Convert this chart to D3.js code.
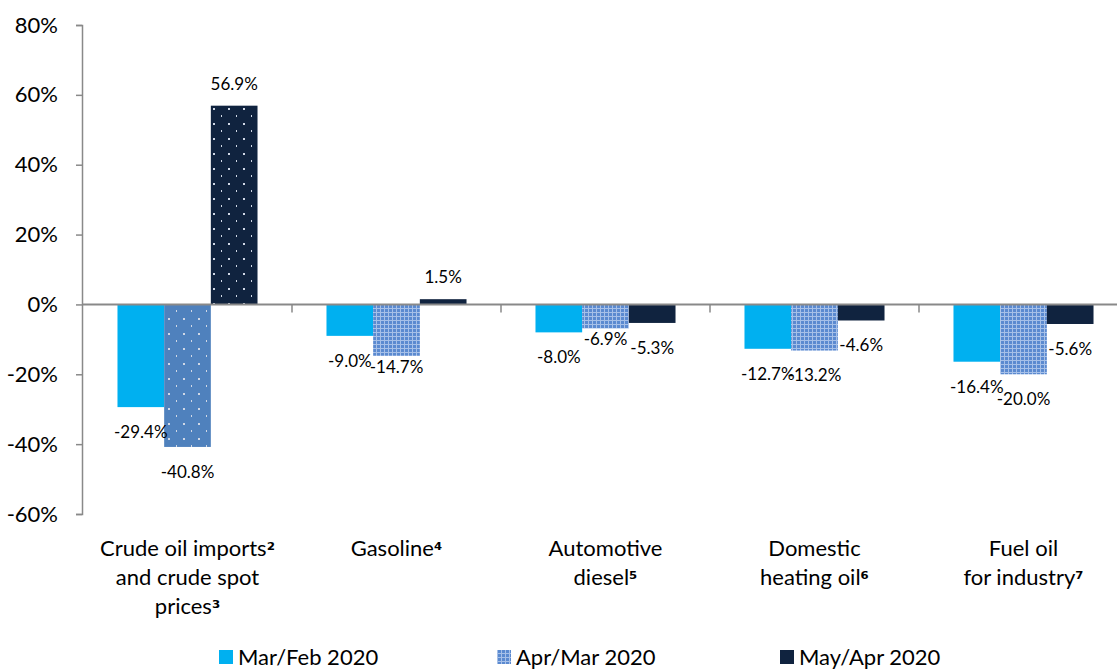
<!DOCTYPE html>
<html>
<head>
<meta charset="utf-8">
<script src="https://cdn.jsdelivr.net/npm/d3@7"></script>
<style>
  body { margin: 0; background: #fff; }
  svg text { font-family: Lato, "Noto Sans", sans-serif; fill: #000; }
  svg tspan.sup { font-family: "DejaVu Sans", sans-serif; font-weight: bold; }
</style>
</head>
<body>
<div id="chart"></div>
<script>
// data
const categories = ["crude", "gasoline", "diesel", "heating", "fueloil"];
const categoryLines = [
    ["Crude oil imports\u00b2", "and crude spot", "prices\u00b3"],
    ["Gasoline\u2074"],
    ["Automotive", "diesel\u2075"],
    ["Domestic", "heating oil\u2076"],
    ["Fuel oil", "for industry\u2077"]
];
const seriesNames = ["Mar/Feb 2020", "Apr/Mar 2020", "May/Apr 2020"];
const marFeb = [-29.4, -9.0, -8.0, -12.7, -16.4];
const aprMar = [-40.8, -14.7, -6.9, -13.2, -20.0];
const mayApr = [56.9, 1.5, -5.3, -4.6, -5.6];
const yTicks = [-60, -40, -20, 0, 20, 40, 60, 80];

const seriesValues = [marFeb, aprMar, mayApr];

// label tweaks (some labels in the original sit closer to the bar)
const labelNudge = {"1-1": -14, "2-1": -14};

const width = 1117;
const height = 669;

const svg = d3.select("#chart").append("svg")
    .attr("width", width)
    .attr("height", height);

// patterns
const defs = svg.append("defs");

const grid = defs.append("pattern")
    .attr("id", "grid")
    .attr("patternUnits", "userSpaceOnUse")
    .attr("width", 4)
    .attr("height", 4);
grid.append("rect").attr("width", 4).attr("height", 4).attr("fill", "#5b8ad0");
grid.append("rect").attr("width", 4).attr("height", 1).attr("fill", "#a6c0e8");
grid.append("rect").attr("width", 1).attr("height", 4).attr("fill", "#a6c0e8");

function dots(id, base) {
    const p = defs.append("pattern")
        .attr("id", id)
        .attr("patternUnits", "userSpaceOnUse")
        .attr("width", 15)
        .attr("height", 15);
    p.append("rect").attr("width", 15).attr("height", 15).attr("fill", base);
    p.append("rect").attr("x", 3).attr("y", 3).attr("width", 2).attr("height", 2).attr("fill", "#d0d8e6");
    p.append("rect").attr("x", 11).attr("y", 10).attr("width", 1).attr("height", 2).attr("fill", "#d0d8e6");
}
dots("dotsBlue", "#4f81bd");
dots("dotsNavy", "#10233f");

const colors = ["#00b0f0", "url(#grid)", "#10233f"];

function fillFor(s, c) {
    if (c === 0 && s === 1) return "url(#dotsBlue)";
    if (c === 0 && s === 2) return "url(#dotsNavy)";
    return colors[s];
}

// scales
const x = d3.scaleBand()
    .domain(categories)
    .range([83, 1128])
    .paddingInner(0.33)
    .paddingOuter(0.165);

const xs = d3.scaleBand()
    .domain(d3.range(seriesNames.length))
    .range([0, x.bandwidth()]);

const y = d3.scaleLinear()
    .domain([-60, 80])
    .range([514, 25]);

const axisColor = "#898989";

// y axis
const yAxisG = svg.append("g")
    .attr("transform", "translate(82,0)")
    .call(d3.axisLeft(y).tickValues(yTicks).tickSize(6).tickPadding(18).tickFormat(d => d + "%"));
yAxisG.select(".domain").attr("stroke", axisColor).attr("stroke-width", 1.5);
yAxisG.selectAll(".tick line").attr("stroke", axisColor).attr("stroke-width", 1.5);
yAxisG.selectAll(".tick text")
    .attr("font-size", "22px")
    .attr("fill", "#000");

// bars
const bars = [];
categories.forEach((c, ci) => {
    seriesValues.forEach((vals, si) => {
        bars.push({c: c, ci: ci, si: si, v: vals[ci]});
    });
});

svg.selectAll("rect.bar")
    .data(bars)
    .enter().append("rect")
    .attr("class", "bar")
    .attr("x", d => x(d.c) + xs(d.si))
    .attr("width", xs.bandwidth())
    .attr("y", d => y(Math.max(0, d.v)))
    .attr("height", d => Math.abs(y(d.v) - y(0)))
    .attr("fill", d => fillFor(d.si, d.ci));

// zero line with category ticks
const xAxisG = svg.append("g")
    .attr("transform", `translate(0,${y(0)})`);
xAxisG.append("line")
    .attr("x1", 82)
    .attr("x2", width)
    .attr("stroke", axisColor)
    .attr("stroke-width", 2);
xAxisG.selectAll("line.sep")
    .data(categories.slice(1))
    .enter().append("line")
    .attr("class", "sep")
    .attr("x1", d => x(d) - x.step() * x.paddingInner() / 2)
    .attr("x2", d => x(d) - x.step() * x.paddingInner() / 2)
    .attr("y1", 0)
    .attr("y2", 8)
    .attr("stroke", axisColor)
    .attr("stroke-width", 1.5);

// value labels
svg.selectAll("text.val")
    .data(bars)
    .enter().append("text")
    .attr("class", "val")
    .attr("x", d => x(d.c) + xs(d.si) + xs.bandwidth() / 2)
    .attr("y", d => {
        const nudge = labelNudge[d.ci + "-" + d.si] || 0;
        return d.v >= 0 ? y(d.v) - 22 : y(d.v) + 25 + nudge;
    })
    .attr("dy", "0.35em")
    .attr("text-anchor", "middle")
    .attr("font-size", "17px")
    .text(d => d.v.toFixed(1) + "%");

// category labels, superscript digits set in a font with bolder glyphs
const supRe = /([\u00b2\u00b3\u2074-\u2079])/;
const catG = svg.selectAll("text.cat")
    .data(categories)
    .enter().append("text")
    .attr("class", "cat")
    .attr("x", d => x(d) + x.bandwidth() / 2)
    .attr("y", 548)
    .attr("text-anchor", "middle")
    .attr("font-size", "22px");
const lineT = catG.selectAll("tspan.line")
    .data((d, i) => categoryLines[i])
    .enter().append("tspan")
    .attr("class", "line")
    .attr("x", function() { return d3.select(this.parentNode).attr("x"); })
    .attr("dy", (d, i) => i === 0 ? "0.35em" : "29px");
lineT.each(function(line) {
    const t = d3.select(this);
    line.split(supRe).filter(s => s.length).forEach(part => {
        const sp = t.append("tspan").text(part);
        if (supRe.test(part)) sp.attr("class", "sup").attr("font-size", "19px");
    });
});

// legend
const legendX = [219, 497, 780];
const legend = svg.selectAll("g.legend")
    .data(seriesNames)
    .enter().append("g")
    .attr("class", "legend")
    .attr("transform", (d, i) => `translate(${legendX[i]},657)`);
legend.append("rect")
    .attr("y", -7)
    .attr("width", 14)
    .attr("height", 14)
    .attr("fill", (d, i) => colors[i]);
legend.append("text")
    .attr("x", 19)
    .attr("dy", "0.35em")
    .attr("font-size", "22px")
    .text(d => d);
</script>
</body>
</html>
